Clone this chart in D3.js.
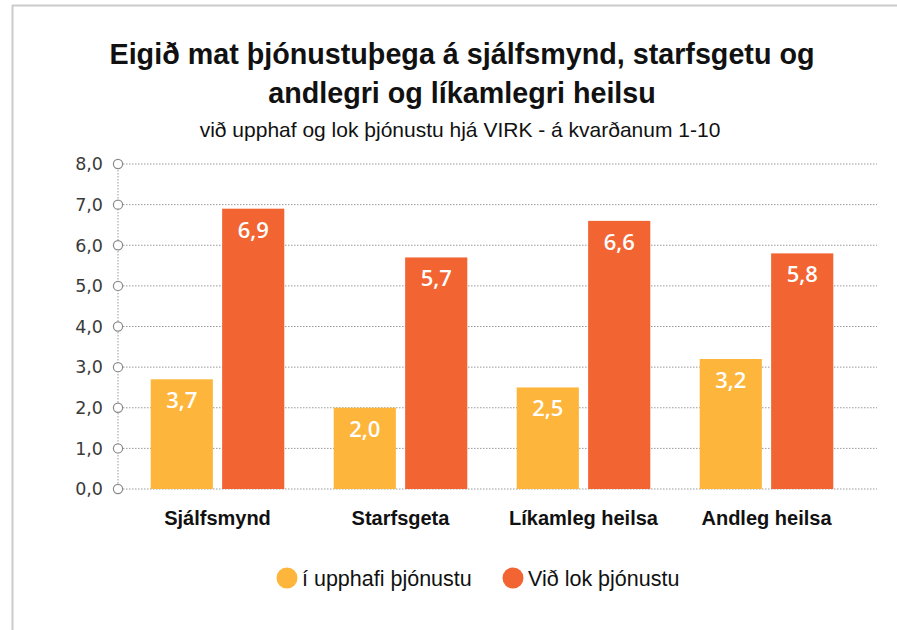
<!DOCTYPE html>
<html>
<head>
    <meta charset="utf-8">
    <title>Eigið mat þjónustuþega</title>
    <script src="https://d3js.org/d3.v7.min.js"></script>
    <style type="text/css">
        body { margin: 0; background: #fff; }
        .title { font-family: "Liberation Sans", Arial, sans-serif; font-weight: bold; font-size: 30px; fill: #111; text-anchor: middle; }
        .subtitle { font-family: "Liberation Sans", Arial, sans-serif; font-size: 21px; fill: #111; text-anchor: middle; }
        .tick-label { font-family: "DejaVu Sans", sans-serif; font-size: 17.5px; fill: #3a3a3a; text-anchor: end; }
        .cat-label { font-family: "Liberation Sans", Arial, sans-serif; font-weight: bold; font-size: 20px; fill: #111; text-anchor: middle; }
        .value-label { font-family: "Open Sans", sans-serif; font-weight: 600; font-size: 22px; fill: #fff; text-anchor: middle; }
        .legend-label { font-family: "Liberation Sans", Arial, sans-serif; font-size: 21.5px; fill: #111; }
        .grid line { stroke: #9a9a9a; stroke-width: 1; stroke-dasharray: 1.5,1.5; }
    </style>
</head>
<body>
    <svg width="897" height="630" id="chart"></svg>

    <script>
        // data
        var categories = ["Sjálfsmynd", "Starfsgeta", "Líkamleg heilsa", "Andleg heilsa"];
        var seriesNames = ["í upphafi þjónustu", "Við lok þjónustu"];
        var startLabels = [3.7, 2.0, 2.5, 3.2];
        var startValues = [2.7, 2.0, 2.5, 3.2];   // first bar is drawn lower than its label in the original
        var endLabels = [6.9, 5.7, 6.6, 5.8];
        var endValues = [6.9, 5.7, 6.6, 5.8];
        var yTicks = [0, 1, 2, 3, 4, 5, 6, 7, 8];
        var colors = ["#fdb53b", "#f26532"];

        var fmt = function(v) { return v.toFixed(1).replace(".", ","); };

        var svg = d3.select("#chart");

        // frame lines (top and left)
        svg.append("line").attr("x1", 12).attr("x2", 897).attr("y1", 5.5).attr("y2", 5.5)
            .attr("stroke", "#cbcbcb").attr("stroke-width", 2);
        svg.append("line").attr("x1", 12.5).attr("x2", 12.5).attr("y1", 5).attr("y2", 630)
            .attr("stroke", "#cbcbcb").attr("stroke-width", 2);

        // titles (slightly condensed like the original)
        var titleLines = [
            { t: "Eigið mat þjónustuþega á sjálfsmynd, starfsgetu og", y: 64 },
            { t: "andlegri og líkamlegri heilsu", y: 103 }
        ];
        svg.selectAll("text.title").data(titleLines).enter().append("text")
            .attr("class", "title")
            .attr("transform", function(d) { return "translate(462," + d.y + ") scale(0.957,1)"; })
            .text(function(d) { return d.t; });
        svg.append("text").attr("class", "subtitle").attr("x", 460).attr("y", 137)
            .text("við upphaf og lok þjónustu hjá VIRK - á kvarðanum 1-10");

        var yScale = d3.scaleLinear().domain([0, 8]).range([489, 164]);
        var x0 = d3.scaleBand().domain(categories).range([126, 858])
            .paddingInner(0.27).paddingOuter(0.135);
        var x1 = d3.scaleBand().domain([0, 1]).range([0, x0.bandwidth()]).paddingInner(0.13);

        var axisX = 118;

        // gridlines
        var grid = svg.append("g").attr("class", "grid");
        grid.selectAll("line").data(yTicks).enter().append("line")
            .attr("x1", axisX + 5).attr("x2", 877)
            .attr("y1", function(d) { return yScale(d); })
            .attr("y2", function(d) { return yScale(d); });

        // vertical dotted axis
        svg.append("line").attr("x1", axisX).attr("x2", axisX)
            .attr("y1", yScale(8)).attr("y2", yScale(0))
            .attr("stroke", "#9a9a9a").attr("stroke-dasharray", "1.5,1.5");

        // bars
        var rows = categories.map(function(c, i) {
            return { cat: c, vals: [
                { s: 0, v: startValues[i], lab: startLabels[i] },
                { s: 1, v: endValues[i], lab: endLabels[i] }
            ] };
        });

        var groups = svg.selectAll("g.cat").data(rows).enter().append("g")
            .attr("class", "cat")
            .attr("transform", function(d) { return "translate(" + x0(d.cat) + ",0)"; });

        groups.selectAll("rect").data(function(d) { return d.vals; }).enter().append("rect")
            .attr("x", function(d) { return x1(d.s); })
            .attr("width", x1.bandwidth())
            .attr("y", function(d) { return yScale(d.v); })
            .attr("height", function(d) { return yScale(0) - yScale(d.v); })
            .attr("fill", function(d) { return colors[d.s]; });

        groups.selectAll("text.value-label").data(function(d) { return d.vals; }).enter().append("text")
            .attr("class", "value-label")
            .attr("x", function(d) { return x1(d.s) + x1.bandwidth() / 2; })
            .attr("y", function(d) { return yScale(d.v) + 29; })
            .text(function(d) { return fmt(d.lab); });

        // tick circles and labels
        var ticks = svg.append("g");
        ticks.selectAll("circle").data(yTicks).enter().append("circle")
            .attr("cx", axisX).attr("cy", function(d) { return yScale(d); })
            .attr("r", 4.6).attr("fill", "#fff").attr("stroke", "#8a8a8a").attr("stroke-width", 1.2);
        ticks.selectAll("text").data(yTicks).enter().append("text")
            .attr("class", "tick-label")
            .attr("x", 103).attr("y", function(d) { return yScale(d); })
            .attr("dy", "0.36em")
            .text(function(d) { return fmt(d); });

        // category labels
        svg.selectAll("text.cat-label").data(categories).enter().append("text")
            .attr("class", "cat-label")
            .attr("x", function(d) { return x0(d) + x0.bandwidth() / 2; })
            .attr("y", 525)
            .text(function(d) { return d; });

        // legend
        var legendX = [287, 513];
        var legend = svg.selectAll("g.legend").data(seriesNames).enter().append("g")
            .attr("class", "legend")
            .attr("transform", function(d, i) { return "translate(" + legendX[i] + ",578)"; });
        legend.append("circle").attr("r", 10.5).attr("fill", function(d, i) { return colors[i]; });
        legend.append("text").attr("class", "legend-label").attr("x", 15).attr("dy", "0.36em")
            .text(function(d) { return d; });
    </script>
</body>
</html>
